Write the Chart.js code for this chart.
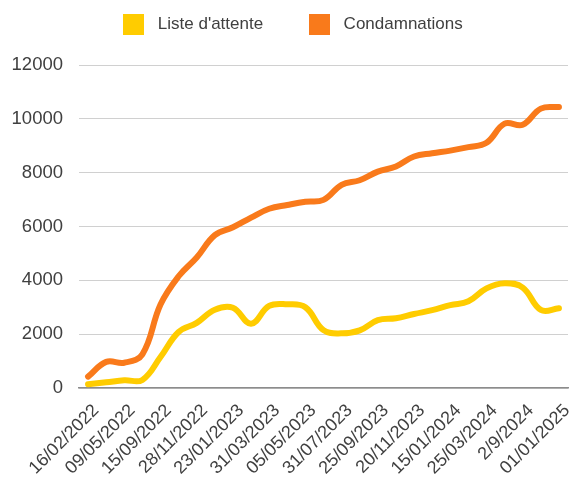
<!DOCTYPE html>
<html>
<head>
<meta charset="utf-8">
<script src="https://cdn.jsdelivr.net/npm/chart.js@4/dist/chart.umd.min.js"></script>
<style>
    html, body { margin: 0; padding: 0; background: #fff; }
    #graf { display: block; }
</style>
</head>
<body>
<canvas id="graf" width="571" height="483"></canvas>
<script>
// Fechas visibles en el eje X (se muestra una de cada dos)
const fechas = [
    '16/02/2022', '09/05/2022', '15/09/2022', '28/11/2022', '23/01/2023',
    '31/03/2023', '05/05/2023', '31/07/2023', '25/09/2023', '20/11/2023',
    '15/01/2024', '25/03/2024', '2/9/2024', '01/01/2025'
];

// Valores (27 puntos)
const listeAttente = [
    140, 210, 290, 300, 1150, 2080, 2420, 2910, 2980, 2390,
    3050, 3110, 3000, 2150, 2030, 2140, 2520, 2590, 2750, 2890,
    3080, 3220, 3700, 3890, 3730, 2900, 2960
];
const condamnations = [
    420, 970, 940, 1250, 3100, 4150, 4850, 5680, 5970, 6330,
    6660, 6800, 6920, 6990, 7550, 7720, 8040, 8230, 8600, 8720,
    8820, 8950, 9110, 9820, 9780, 10380, 10440
];

const yTicks = [0, 2000, 4000, 6000, 8000, 10000, 12000];

const colorAttente = '#FFCC00';
const colorCondamn = '#F97A1B';

// Cada fecha ocupa un punto par, los impares quedan sin etiqueta
const etiquetas = [];
fechas.forEach((f, i) => {
    etiquetas.push(f);
    if (i < fechas.length - 1) etiquetas.push('');
});

// Cuadradito de color para la leyenda
function cuadro(color) {
    const c = document.createElement('canvas');
    c.width = 21;
    c.height = 21;
    const ctx = c.getContext('2d');
    ctx.fillStyle = color;
    ctx.fillRect(0, 0, 21, 21);
    return c;
}

// Separación extra debajo de la leyenda
const margenLeyenda = {
    id: 'margenLeyenda',
    beforeInit(chart) {
        const fit = chart.legend.fit;
        chart.legend.fit = function () {
            fit.bind(chart.legend)();
            this.height += 22;
        };
    }
};

Chart.defaults.font.family = "'Liberation Sans', Arial, sans-serif";
Chart.defaults.color = '#404040';

new Chart(document.getElementById('graf'), {
    type: 'line',
    data: {
        labels: etiquetas,
        datasets: [{
            label: "Liste d'attente",
            data: listeAttente,
            borderColor: colorAttente,
            backgroundColor: colorAttente,
            pointStyle: cuadro(colorAttente),
            borderWidth: 6,
            borderCapStyle: 'round',
            pointRadius: 0,
            tension: 0.4,
            fill: false
        }, {
            label: 'Condamnations',
            data: condamnations,
            borderColor: colorCondamn,
            backgroundColor: colorCondamn,
            pointStyle: cuadro(colorCondamn),
            borderWidth: 6,
            borderCapStyle: 'round',
            pointRadius: 0,
            tension: 0.4,
            fill: false
        }]
    },
    options: {
        responsive: false,
        animation: false,
        layout: { padding: { top: -24, left: 12, right: 3, bottom: 0 } },
        plugins: {
            legend: {
                position: 'top',
                labels: {
                    usePointStyle: true,
                    pointStyleWidth: 32,
                    boxHeight: 20,
                    padding: 40,
                    font: { size: 17 },
                    color: '#404040'
                }
            },
            tooltip: { enabled: false }
        },
        scales: {
            x: {
                offset: true,
                grid: { display: false, drawTicks: false },
                border: { display: true, color: '#8c8c8c', width: 1.5 },
                ticks: {
                    autoSkip: false,
                    maxRotation: 45,
                    minRotation: 45,
                    padding: 12,
                    labelOffset: 8,
                    font: { size: 18 }
                },
                afterFit: scale => {
                    scale.paddingLeft = 0;
                    scale.paddingRight = 0;
                    scale.height = 95;
                }
            },
            y: {
                min: 0,
                max: 12000,
                afterBuildTicks: axis => { axis.ticks = yTicks.map(v => ({ value: v })); },
                grid: { color: '#d0d0d0', lineWidth: 1, drawTicks: false },
                border: { display: false },
                ticks: {
                    padding: 16,
                    font: { size: 18.5 },
                    callback: v => String(v)
                },
                afterFit: scale => { scale.width = 67; }
            }
        }
    },
    plugins: [margenLeyenda]
});
</script>
</body>
</html>
